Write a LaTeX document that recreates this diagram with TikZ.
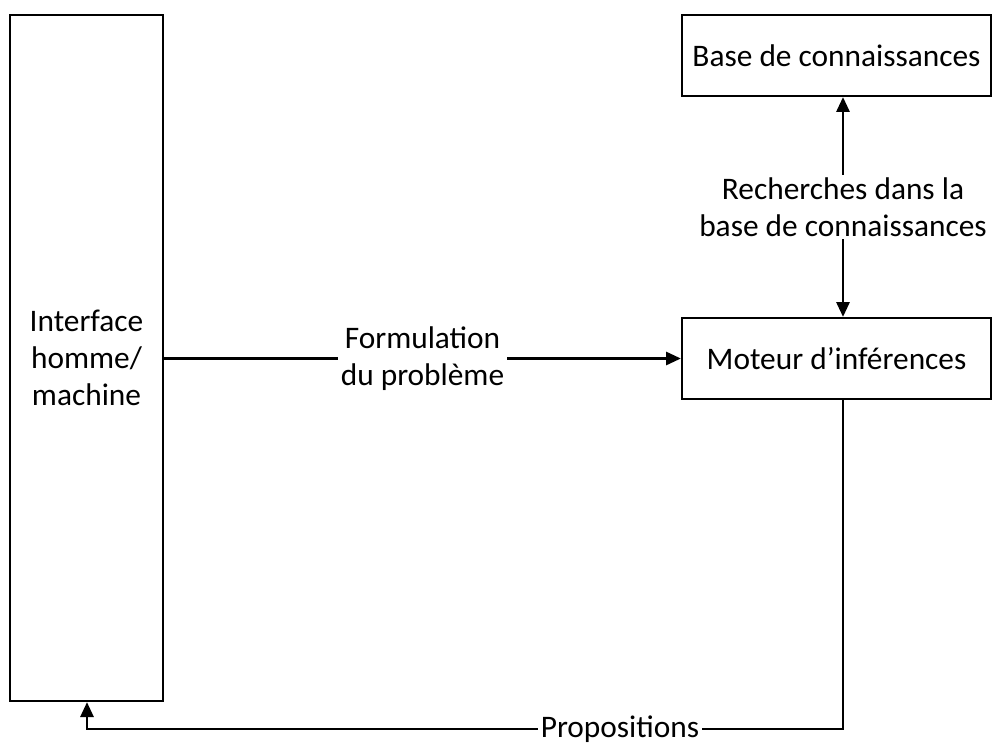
\documentclass[tikz,border=0pt]{standalone}
\usepackage{fontspec}
\setmainfont{Carlito}
\usetikzlibrary{arrows.meta}
\tikzset{
  boite/.style={draw, line width=1.6pt, inner sep=0pt, align=center, font=\fontsize{22.3}{26.5}\selectfont},
  lien/.style={line width=1.6pt, -{Triangle[length=0.37cm,width=0.33cm]}},
  etiq/.style={fill=white, align=center, inner sep=2pt, font=\fontsize{22.3}{26.5}\selectfont}
}
\begin{document}
\begin{tikzpicture}[x=0.025cm, y=-0.025cm]
\useasboundingbox (0,0) rectangle (997,747);
% les trois blocs
\node[boite, minimum width=3.825cm, minimum height=17.15cm] (ihm) at (86.5,358) {Interface\\homme/\\machine};
\node[boite, minimum width=7.725cm, minimum height=2.025cm] (base) at (836.5,55.5) {Base de connaissances};
\node[boite, minimum width=7.725cm, minimum height=2.025cm] (moteur) at (836.5,358.5) {Moteur d'inférences};
\coordinate (c1) at (843,729);
\coordinate (c2) at (87,729);
% liaisons
\draw[lien] (ihm.east |- moteur.west) -- node[etiq] {Formulation\\du problème} (moteur.west);
\draw[lien, {Triangle[length=0.37cm,width=0.33cm]}-{Triangle[length=0.37cm,width=0.33cm]}] (base.south -| c1) -- node[etiq] {Recherches dans la\\base de connaissances} (moteur.north -| c1);
\draw[lien] (moteur.south -| c1) -- (c1) -- node[etiq, pos=0.295, inner ysep=0pt] {Propositions} (c2) -- (ihm.south -| c2);
\end{tikzpicture}
\end{document}
